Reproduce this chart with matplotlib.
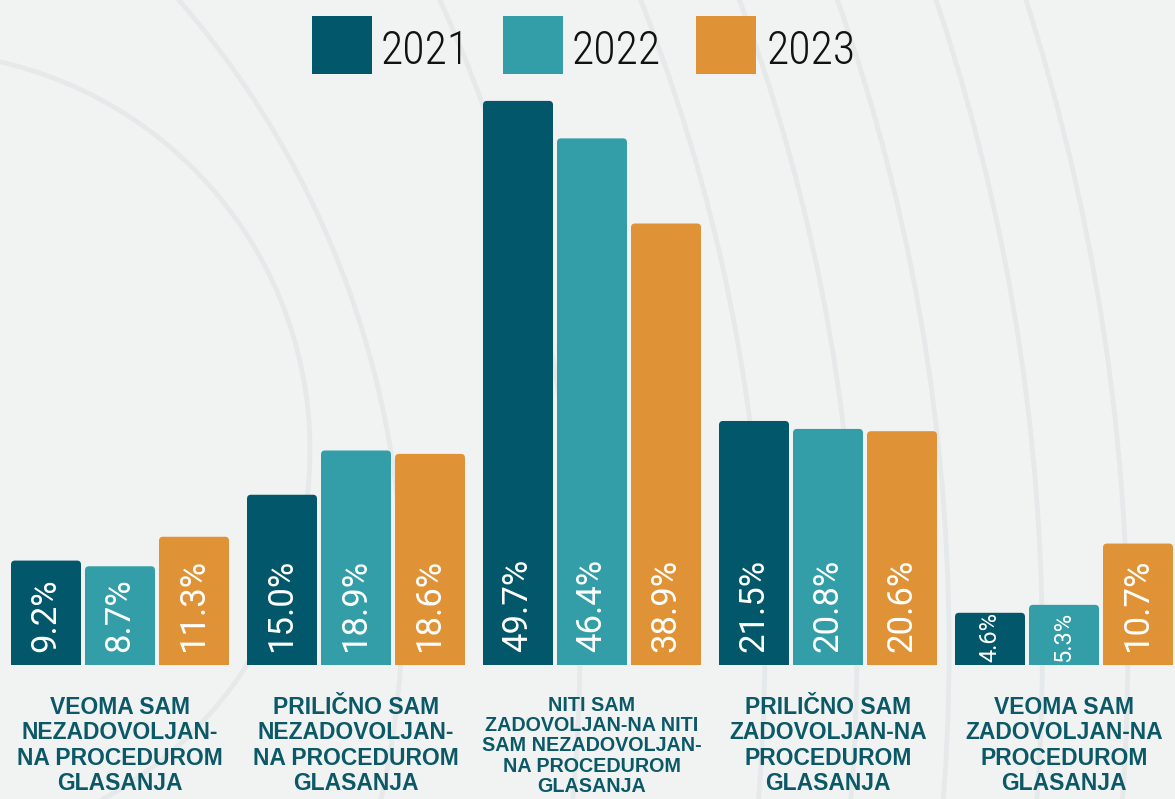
import matplotlib
matplotlib.use("Agg")
import matplotlib.pyplot as plt
from matplotlib.patches import FancyBboxPatch, Rectangle, Arc
from matplotlib import font_manager
import numpy as np

categories = [
    "VEOMA SAM\nNEZADOVOLJAN-\nNA PROCEDUROM\nGLASANJA",
    "PRILIČNO SAM\nNEZADOVOLJAN-\nNA PROCEDUROM\nGLASANJA",
    "NITI SAM\nZADOVOLJAN-NA NITI\nSAM NEZADOVOLJAN-\nNA PROCEDUROM\nGLASANJA",
    "PRILIČNO SAM\nZADOVOLJAN-NA\nPROCEDUROM\nGLASANJA",
    "VEOMA SAM\nZADOVOLJAN-NA\nPROCEDUROM\nGLASANJA",
]
years = ["2021", "2022", "2023"]
v2021 = [9.2, 15.0, 49.7, 21.5, 4.6]
v2022 = [8.7, 18.9, 46.4, 20.8, 5.3]
v2023 = [11.3, 18.6, 38.9, 20.6, 10.7]
series = [v2021, v2022, v2023]
colors = ["#02586a", "#339ea8", "#e09236"]
bg = "#f1f3f3"
label_color = "#0b5867"

names = {f.name for f in font_manager.fontManager.ttflist}
legend_font = "Roboto"
for cand in ["Roboto Condensed", "Liberation Sans Narrow", "Open Sans Condensed"]:
    if cand in names:
        legend_font = cand
        break

W, H = 1175, 799
fig = plt.figure(figsize=(W / 100, H / 100), dpi=100, facecolor=bg)

# decorative faint arcs
deco = fig.add_axes([0, 0, 1, 1], zorder=0)
deco.set_xlim(0, W)
deco.set_ylim(H, 0)
deco.axis("off")
arc_c = "#e6e9ea"
deco.add_patch(Arc((-88, 450), 2 * 398, 2 * 398, theta1=-90, theta2=90, color=arc_c, lw=3.5))
deco.add_patch(Arc((-512, 600), 2 * 915, 2 * 915, theta1=-90, theta2=90, color=arc_c, lw=3.5))
cx, cy = -1000, 650
for xb in [560, 747, 840, 933, 1027, 1113]:
    r = np.hypot(xb - cx, cy - 400)
    deco.add_patch(Arc((cx, cy), 2 * r, 2 * r, theta1=-90, theta2=90, color=arc_c, lw=3.5))

base_px = 665
px_per_unit = 11.35
ax = fig.add_axes([0, (H - base_px) / H, 1, base_px / H], zorder=1)
ax.set_facecolor("none")
group_px = 236.0
first_center = 120.0
ax.set_xlim(-first_center / group_px, (W - first_center) / group_px)
ax.set_ylim(0, base_px / px_per_unit)
ax.axis("off")

bw = 70 / group_px
step = 74 / group_px
rx = 4 / group_px
aspect = group_px / px_per_unit
x = np.arange(len(categories))
for i, (vals, c) in enumerate(zip(series, colors)):
    for j, v in enumerate(vals):
        left = x[j] + (i - 1) * step - bw / 2
        p = FancyBboxPatch((left, -2), bw, v + 2,
                           boxstyle=f"round,pad=0,rounding_size={rx}",
                           mutation_aspect=aspect, fc=c, ec="none")
        ax.add_patch(p)
        xc = x[j] + (i - 1) * step
        if v < 7:
            ax.text(xc, 0.25, f"{v:.1f}%", rotation=90, ha="center", va="bottom",
                    color="white", fontsize=17, family="Roboto")
        else:
            ax.text(xc, 1.15, f"{v:.1f}%", rotation=90, ha="center", va="bottom",
                    color="white", fontsize=25, family="Roboto")

# category labels
for j, lab in enumerate(categories):
    xp = (first_center + j * group_px) / W
    if j == 2:
        fig.text(xp, 1 - 696 / H, lab, ha="center", va="top", color=label_color,
                 fontsize=14.2, fontweight="bold", family="Liberation Sans",
                 linespacing=1.08)
    else:
        fig.text(xp, 1 - 696 / H, lab, ha="center", va="top", color=label_color,
                 fontsize=16.5, fontweight="bold", family="Liberation Sans",
                 linespacing=1.13)

# legend
sq = [(312, 16), (503, 16), (696, 16)]
txt_x = [381, 572, 767]
for (sx, sy), tx, c, yr in zip(sq, txt_x, colors, years):
    fig.patches.append(Rectangle((sx / W, 1 - (sy + 58) / H), 60 / W, 58 / H,
                                 transform=fig.transFigure, fc=c, ec="none"))
    fig.text(tx / W, 1 - 46 / H, yr, ha="left", va="center_baseline", color="#111111",
             fontsize=33, family=legend_font, fontweight="light")

fig.savefig("out.png", dpi=100, facecolor=bg)
